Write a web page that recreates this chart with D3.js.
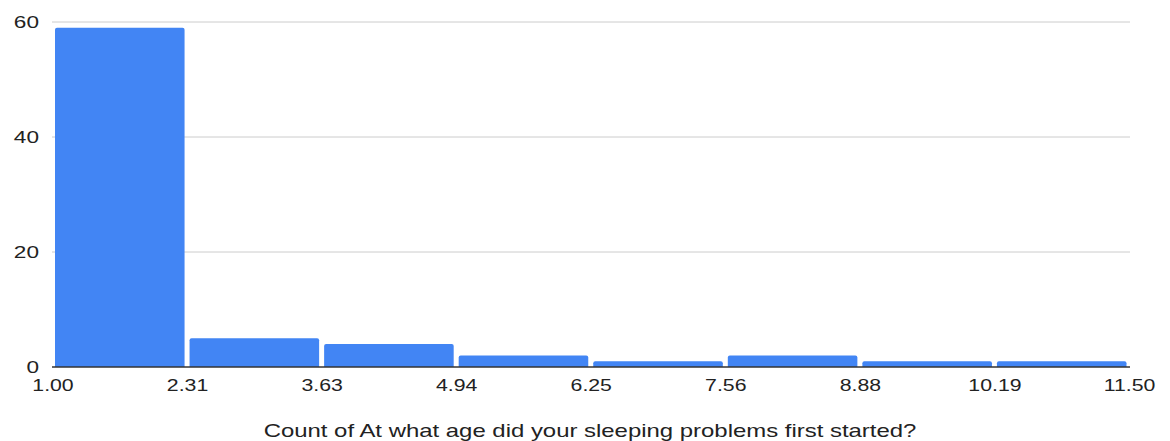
<!DOCTYPE html>
<html>
<head>
<meta charset="utf-8">
<script src="https://cdn.jsdelivr.net/npm/d3@7"></script>
<style>
  body { margin: 0; background: #fff; }
  svg { display: block; }
  text { font-family: "Liberation Sans", Arial, sans-serif; fill: #222; }
</style>
</head>
<body>
<div id="chart"></div>
<script>
// Histogram of the age at which sleeping problems first started
const binEdges = [1.00, 2.3125, 3.625, 4.9375, 6.25, 7.5625, 8.875, 10.1875, 11.50];
const counts = [59, 5, 4, 2, 1, 2, 1, 1];
const tickLabels = ["1.00", "2.31", "3.63", "4.94", "6.25", "7.56", "8.88", "10.19", "11.50"];
const yTicks = [0, 20, 40, 60];
const xLabelText = "Count of At what age did your sleeping problems first started?";

const W = 1170, H = 441;
const stretch = 1.33; // the reference is stretched horizontally

const svg = d3.select("#chart").append("svg")
    .attr("width", W)
    .attr("height", H);

const x = d3.scaleLinear().domain([1, 11.5]).range([52.5, 1129]);
const y = d3.scaleLinear().domain([0, 60]).range([367, 22]);

// gridlines
svg.append("g")
  .selectAll("line")
  .data(yTicks.filter(d => d > 0))
  .join("line")
    .attr("x1", 52).attr("x2", 1130)
    .attr("y1", d => y(d)).attr("y2", d => y(d))
    .attr("stroke", "#cccccc")
    .attr("stroke-width", 1);

// y labels
svg.append("g")
  .selectAll("text")
  .data(yTicks)
  .join("text")
    .attr("transform", d => "translate(39," + y(d) + ") scale(" + stretch + ",1)")
    .attr("text-anchor", "end")
    .attr("dy", "0.36em")
    .style("font-size", "17px")
    .text(d => d);

// bars with rounded top corners
const pad = 2.5, r = 2;
const bars = counts.map((c, i) => ({ x0: binEdges[i], x1: binEdges[i + 1], c: c }));
svg.append("g")
  .selectAll("path")
  .data(bars)
  .join("path")
    .attr("fill", "#4285f4")
    .attr("d", d => {
      const l = x(d.x0) + pad, rr = x(d.x1) - pad, t = y(d.c), b = y(0);
      return "M" + l + "," + b + "V" + (t + r) + "Q" + l + "," + t + " " + (l + r) + "," + t +
        "H" + (rr - r) + "Q" + rr + "," + t + " " + rr + "," + (t + r) + "V" + b + "Z";
    });

// baseline
svg.append("line")
    .attr("x1", 52).attr("x2", 1130)
    .attr("y1", y(0)).attr("y2", y(0))
    .attr("stroke", "#333")
    .attr("stroke-width", 1.5);

// x axis tick labels
const xAxis = svg.append("g")
    .attr("transform", "translate(0," + y(0) + ")")
    .call(d3.axisBottom(x).tickValues(binEdges).tickSize(0).tickFormat((d, i) => tickLabels[i]));
xAxis.select(".domain").remove();
xAxis.selectAll("text")
    .attr("y", 0)
    .attr("dy", "24.5px")
    .attr("transform", "scale(" + stretch + ",1)")
    .style("font-size", "16px")
    .style("font-family", "'Liberation Sans', Arial, sans-serif")
    .attr("fill", "#222");

// axis title
svg.append("text")
    .attr("transform", "translate(590,436.5) scale(" + stretch + ",1)")
    .attr("text-anchor", "middle")
    .style("font-size", "18px")
    .text(xLabelText);
</script>
</body>
</html>
